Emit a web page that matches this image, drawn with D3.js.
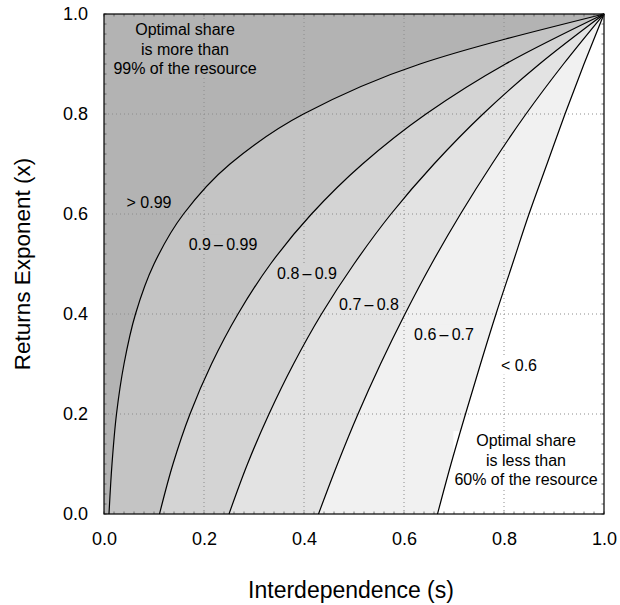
<!DOCTYPE html>
<html>
<head>
<meta charset="utf-8">
<script src="https://cdn.jsdelivr.net/npm/d3@7"></script>
<style>
  body { margin: 0; background: #fff; }
  text { font-family: "Liberation Sans", Arial, Helvetica, sans-serif; fill: #000; }
</style>
</head>
<body>
<svg id="chart" width="620" height="605"></svg>
<script>
// returns exponent levels (y) at which each boundary curve was read
var exponentLevels = [0, 0.1, 0.2, 0.3, 0.4, 0.5, 0.6, 0.7, 0.8, 0.9, 1.0];

// interdependence (s) on each boundary
var boundary99 = [0.010, 0.016, 0.025, 0.040, 0.063, 0.100, 0.159, 0.252, 0.399, 0.632, 1.0];
var boundary90 = [0.111, 0.138, 0.172, 0.215, 0.268, 0.333, 0.415, 0.517, 0.644, 0.803, 1.0];
var boundary80 = [0.250, 0.287, 0.330, 0.379, 0.435, 0.500, 0.574, 0.660, 0.758, 0.871, 1.0];
var boundary70 = [0.429, 0.467, 0.508, 0.553, 0.602, 0.655, 0.713, 0.776, 0.844, 0.919, 1.0];
var boundary60 = [0.667, 0.694, 0.723, 0.753, 0.784, 0.817, 0.850, 0.886, 0.922, 0.960, 1.0];

var boundaries = [boundary99, boundary90, boundary80, boundary70, boundary60];
var bandLabels = ['> 0.99', '0.9\u2009\u2013\u20090.99', '0.8\u2009\u2013\u20090.9',
  '0.7\u2009\u2013\u20090.8', '0.6\u2009\u2013\u20090.7', '< 0.6'];
var topNote = ['Optimal share', 'is more than', '99% of the resource'];
var bottomNote = ['Optimal share', 'is less than', '60% of the resource'];
var tickValues = [0, 0.2, 0.4, 0.6, 0.8, 1.0];

// darkest band first, each next fill drawn to the right of a boundary
var bandFills = ['#b3b3b3', '#c4c4c4', '#d4d4d4', '#e3e3e3', '#f1f1f1', '#ffffff'];
// where the band labels sit, in data units [s, x]
var bandLabelSpots = [[0.09, 0.624], [0.238, 0.54], [0.406, 0.482], [0.53, 0.42], [0.68, 0.36], [0.83, 0.298]];

var margin = {left: 104, top: 14};
var plotSize = 500;

var svg = d3.select('#chart');
var g = svg.append('g').attr('transform', 'translate(' + margin.left + ',' + margin.top + ')');

var xScale = d3.scaleLinear().domain([0, 1]).range([0, plotSize]);
var yScale = d3.scaleLinear().domain([0, 1]).range([plotSize, 0]);

g.append('clipPath').attr('id', 'plot-clip')
  .append('rect').attr('width', plotSize).attr('height', plotSize);

var bandsLayer = g.append('g').attr('clip-path', 'url(#plot-clip)');

bandsLayer.append('rect')
  .attr('width', plotSize)
  .attr('height', plotSize)
  .attr('fill', bandFills[0]);

var bandArea = d3.area()
  .curve(d3.curveMonotoneY)
  .y(function(d) { return yScale(d[1]); })
  .x0(function(d) { return xScale(d[0]); })
  .x1(function() { return xScale(1); });

var boundaryLine = d3.line()
  .curve(d3.curveMonotoneY)
  .x(function(d) { return xScale(d[0]); })
  .y(function(d) { return yScale(d[1]); });

function toPoints(boundary) {
  return boundary.map(function(s, i) { return [s, exponentLevels[i]]; });
}

bandsLayer.selectAll('.band')
  .data(boundaries)
  .enter().append('path')
  .classed('band', true)
  .attr('fill', function(d, i) { return bandFills[i + 1]; })
  .attr('d', function(d) { return bandArea(toPoints(d)); });

// dotted grid
var grid = g.append('g');
grid.selectAll('.grid-v')
  .data(tickValues.slice(1, -1))
  .enter().append('line')
  .attr('x1', xScale).attr('x2', xScale)
  .attr('y1', 0).attr('y2', plotSize);
grid.selectAll('.grid-h')
  .data(tickValues.slice(1, -1))
  .enter().append('line')
  .attr('y1', yScale).attr('y2', yScale)
  .attr('x1', 0).attr('x2', plotSize);
grid.selectAll('line')
  .attr('stroke', '#8c8c8c')
  .attr('stroke-width', 1)
  .attr('stroke-dasharray', '1,3');

// labels with a patch of the band colour behind them
function addLabel(lines, s, x, fill, size, lineGap) {
  var group = g.append('g');
  var rect = group.append('rect').attr('fill', fill);
  var text = group.append('text')
    .attr('text-anchor', 'middle')
    .attr('font-size', size);
  var startY = yScale(x) - (lines.length - 1) * lineGap / 2;
  lines.forEach(function(line, i) {
    text.append('tspan')
      .attr('x', xScale(s))
      .attr('y', startY + i * lineGap)
      .attr('dy', '0.35em')
      .text(line);
  });
  var box = text.node().getBBox();
  rect.attr('x', box.x - 1).attr('y', box.y - 1)
    .attr('width', box.width + 2).attr('height', box.height + 2);
}

bandLabels.forEach(function(label, i) {
  addLabel([label], bandLabelSpots[i][0], bandLabelSpots[i][1], bandFills[i], 16, 0);
});
addLabel(topNote, 0.162, 0.93, bandFills[0], 16, 19.5);
addLabel(bottomNote, 0.844, 0.108, bandFills[5], 16, 19.5);

// boundary curves on top
g.append('g').selectAll('.boundary')
  .data(boundaries)
  .enter().append('path')
  .classed('boundary', true)
  .attr('fill', 'none')
  .attr('stroke', '#000')
  .attr('stroke-width', 1.2)
  .attr('d', function(d) { return boundaryLine(toPoints(d)); });

// frame with small inward ticks
var minorTicks = d3.range(0, 51).map(function(i) { return i / 50; });
var frame = g.append('g');
frame.selectAll('.mt-b').data(minorTicks).enter().append('line')
  .attr('x1', xScale).attr('x2', xScale).attr('y1', plotSize).attr('y2', plotSize - 2.5);
frame.selectAll('.mt-t').data(minorTicks).enter().append('line')
  .attr('x1', xScale).attr('x2', xScale).attr('y1', 0).attr('y2', 2.5);
frame.selectAll('.mt-l').data(minorTicks).enter().append('line')
  .attr('y1', yScale).attr('y2', yScale).attr('x1', 0).attr('x2', 2.5);
frame.selectAll('.mt-r').data(minorTicks).enter().append('line')
  .attr('y1', yScale).attr('y2', yScale).attr('x1', plotSize).attr('x2', plotSize - 2.5);
frame.selectAll('line').attr('stroke', '#555').attr('stroke-width', 0.8);
frame.append('rect')
  .attr('width', plotSize).attr('height', plotSize)
  .attr('fill', 'none').attr('stroke', '#000').attr('stroke-width', 1.2);

// axes
var fmt = d3.format('.1f');
var xAxis = g.append('g')
  .attr('transform', 'translate(0,' + plotSize + ')')
  .call(d3.axisBottom(xScale).tickValues(tickValues).tickFormat(fmt).tickSize(0).tickPadding(18));
var yAxis = g.append('g')
  .call(d3.axisLeft(yScale).tickValues(tickValues).tickFormat(fmt).tickSize(0).tickPadding(16));
[xAxis, yAxis].forEach(function(axis) {
  axis.select('.domain').remove();
  axis.selectAll('text')
    .attr('font-size', 18)
    .attr('font-family', '"Liberation Sans", Arial, sans-serif')
    .attr('fill', '#000');
});

svg.append('text')
  .attr('x', margin.left + plotSize / 2 - 3)
  .attr('y', 598)
  .attr('text-anchor', 'middle')
  .attr('font-size', 23)
  .text('Interdependence (s)');

svg.append('text')
  .attr('transform', 'translate(30,' + (margin.top + plotSize / 2) + ') rotate(-90)')
  .attr('text-anchor', 'middle')
  .attr('font-size', 22.5)
  .text('Returns Exponent (x)');
</script>
</body>
</html>
